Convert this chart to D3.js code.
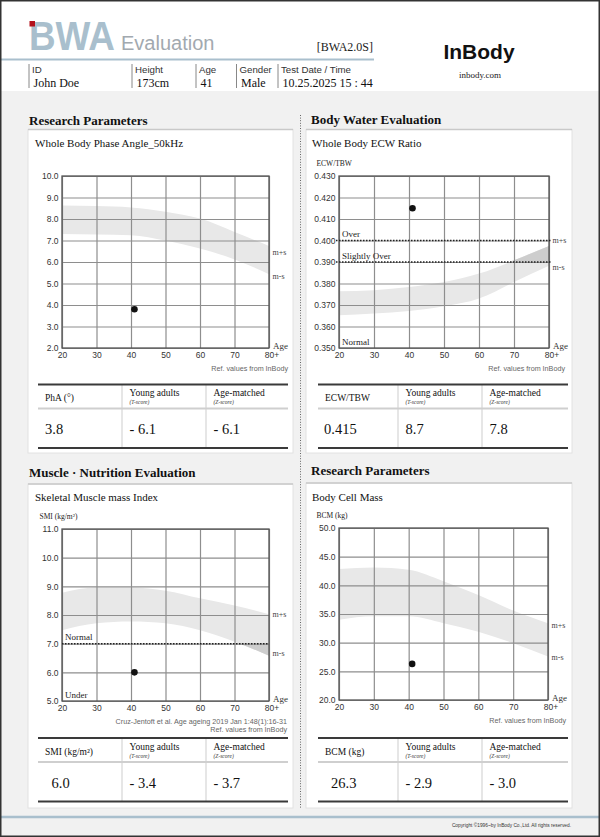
<!DOCTYPE html>
<html>
<head>
<meta charset="utf-8">
<title>BWA Evaluation</title>
<script src="https://d3js.org/d3.v7.min.js"></script>
<style>
body { margin: 0; background: #fff; }
svg { display: block; }
</style>
</head>
<body>
<div id="chart"></div>
<script>

// ages of the reference band points
const ages = [20, 30, 40, 50, 60, 70, 80];
const ageTicks = [20, 30, 40, 50, 60, 70, 80];
const subjectAge = 41;

// phase angle
const phaTicks = [2, 3, 4, 5, 6, 7, 8, 9, 10];
const phaUpper = [8.63, 8.6, 8.54, 8.34, 8.02, 7.4, 6.74];
const phaLower = [7.3, 7.28, 7.25, 7.0, 6.63, 6.12, 5.43];
const phaValue = 3.8;

// ECW ratio
const ecwTicks = [0.35, 0.36, 0.37, 0.38, 0.39, 0.40, 0.41, 0.42, 0.43];
const ecwUpper = [0.3764, 0.3769, 0.3784, 0.3807, 0.3846, 0.3908, 0.3975];
const ecwLower = [0.3652, 0.366, 0.3672, 0.3694, 0.373, 0.3807, 0.3882];
const ecwCutoffs = [0.400, 0.390];
const ecwValue = 0.415;

// SMI
const smiTicks = [5, 6, 7, 8, 9, 10, 11];
const smiUpper = [8.78, 8.96, 8.96, 8.85, 8.58, 8.33, 8.03];
const smiLower = [7.47, 7.71, 7.77, 7.71, 7.47, 7.07, 6.58];
const smiCutoffs = [7.0];
const smiValue = 6.0;

// body cell mass
const bcmTicks = [20, 25, 30, 35, 40, 45, 50];
const bcmUpper = [42.83, 43.1, 42.7, 40.7, 38.3, 35.6, 33.4];
const bcmLower = [34.0, 34.6, 34.6, 33.4, 31.9, 29.9, 27.6];
const bcmValue = 26.3;

// tables
const phaRow = ["3.8", "- 6.1", "- 6.1"];
const ecwRow = ["0.415", "8.7", "7.8"];
const smiRow = ["6.0", "- 3.4", "- 3.7"];
const bcmRow = ["26.3", "- 2.9", "- 3.0"];

// header
const infoLabels = ["ID", "Height", "Age", "Gender", "Test Date / Time"];
const infoValues = ["John Doe", "173cm", "41", "Male", "10.25.2025 15 : 44"];

const SERIF = "Liberation Serif, Times New Roman, serif";
const SANS = "Liberation Sans, Arial, sans-serif";
const W = 600, H = 837;

const svg = d3.select("#chart").append("svg")
  .attr("width", W).attr("height", H);

// page
svg.append("rect").attr("width", W).attr("height", H).attr("fill", "#f1f1f1");
svg.append("rect").attr("width", W).attr("height", 91).attr("fill", "#fff");

// ---- header ----
svg.append("text").attr("x", 29).attr("y", 50)
  .attr("font-family", SANS).attr("font-size", 40).attr("font-weight", "bold")
  .attr("fill", "#a9bfcd").attr("textLength", 86).attr("lengthAdjust", "spacingAndGlyphs")
  .text("BWA");
svg.append("rect").attr("x", 29.5).attr("y", 21).attr("width", 5.5).attr("height", 5.5).attr("fill", "#b3121c");
svg.append("text").attr("x", 121).attr("y", 50)
  .attr("font-family", SANS).attr("font-size", 20).attr("fill", "#a2a9af")
  .text("Evaluation");
svg.append("text").attr("x", 373).attr("y", 51).attr("text-anchor", "end")
  .attr("font-family", SERIF).attr("font-size", 12).attr("fill", "#222")
  .text("[BWA2.0S]");
svg.append("line").attr("x1", 1).attr("x2", 374).attr("y1", 59.5).attr("y2", 59.5)
  .attr("stroke", "#a9bfcd").attr("stroke-width", 2.2);
svg.append("text").attr("x", 479).attr("y", 59).attr("text-anchor", "middle")
  .attr("font-family", SANS).attr("font-size", 21).attr("font-weight", "bold").attr("fill", "#111")
  .text("InBody");
svg.append("text").attr("x", 480).attr("y", 78).attr("text-anchor", "middle")
  .attr("font-family", SERIF).attr("font-size", 9).attr("fill", "#222")
  .text("inbody.com");

const infoX = [29, 132, 196, 236.5, 278];
infoLabels.forEach((lab, i) => {
  svg.append("line").attr("x1", infoX[i]).attr("x2", infoX[i]).attr("y1", 64).attr("y2", 88)
    .attr("stroke", "#888").attr("stroke-width", 1);
  svg.append("text").attr("x", infoX[i] + 3).attr("y", 72.5)
    .attr("font-family", SANS).attr("font-size", 9.7).attr("fill", "#333").text(lab);
  svg.append("text").attr("x", infoX[i] + 4.5).attr("y", 87)
    .attr("font-family", SERIF).attr("font-size", 12).attr("fill", "#111").text(infoValues[i]);
});

// ---- section cards ----
function card(x, y, w, h, titleY, title) {
  svg.append("rect").attr("x", x).attr("y", y).attr("width", w).attr("height", h)
    .attr("fill", "#fff").attr("stroke", "#e2e2e2").attr("stroke-width", 1);
  svg.append("line").attr("x1", x).attr("x2", x + w).attr("y1", y).attr("y2", y)
    .attr("stroke", "#c9c9c9").attr("stroke-width", 1.5);
  svg.append("text").attr("x", x + 1 + (x > 300 ? 4 : 0)).attr("y", titleY)
    .attr("font-family", SERIF).attr("font-size", 13).attr("font-weight", "bold").attr("fill", "#111")
    .text(title);
}
card(28, 129.5, 265, 323.5, 125, "Research Parameters");
card(306, 129.5, 266, 323.5, 124, "Body Water Evaluation");
card(28, 484, 265, 324, 477, "Muscle \u00b7 Nutrition Evaluation");
card(306, 483, 266, 325, 475, "Research Parameters");

// dotted separator
svg.append("line").attr("x1", 300.5).attr("x2", 300.5).attr("y1", 115).attr("y2", 808)
  .attr("stroke", "#666").attr("stroke-width", 1).attr("stroke-dasharray", "1,1.6");

// ---- charts ----
function drawChart(c) {
  const g = svg.append("g");
  const x = d3.scaleLinear().domain([20, 80]).range([c.x0, c.x1]);
  const y = d3.scaleLinear().domain(d3.extent(c.ticks)).range([c.y1, c.y0]);

  g.append("text").attr("x", c.subX).attr("y", c.subY)
    .attr("font-family", SERIF).attr("font-size", 11).attr("fill", "#111").text(c.subtitle);
  if (c.unit) {
    g.append("text").attr("x", c.subX + 4.5).attr("y", c.y0 - 10)
      .attr("font-family", SERIF).attr("font-size", 7.5).attr("fill", "#222").text(c.unit);
  }

  const band = ages.map((a, i) => ({ a: a, hi: c.upper[i], lo: c.lower[i] }));
  const area = d3.area()
    .x(d => x(d.a)).y0(d => y(d.lo)).y1(d => y(d.hi))
    .curve(d3.curveMonotoneX);
  g.append("path").datum(band).attr("d", area).attr("fill", "#e8e8e8");
  if (c.zone) {
    const id = "clip-" + c.id;
    g.append("clipPath").attr("id", id).append("rect")
      .attr("x", c.x0).attr("width", c.x1 - c.x0)
      .attr("y", y(c.zone[1])).attr("height", y(c.zone[0]) - y(c.zone[1]));
    g.append("path").datum(band).attr("d", area)
      .attr("fill", "#cdcdcd").attr("clip-path", "url(#" + id + ")");
  }

  const ya = g.append("g").attr("transform", "translate(" + c.x0 + ",0)")
    .call(d3.axisLeft(y).tickValues(c.ticks).tickFormat(d3.format(c.fmt))
      .tickSize(-(c.x1 - c.x0)).tickPadding(3.5));
  const xa = g.append("g").attr("transform", "translate(0," + c.y1 + ")")
    .call(d3.axisBottom(x).tickValues(ageTicks)
      .tickFormat(d => d === 80 ? "80+" : d)
      .tickSize(-(c.y1 - c.y0)).tickPadding(3.5));
  [ya, xa].forEach(a => {
    a.select(".domain").remove();
    a.selectAll(".tick line").attr("stroke", "#8e8e8e").attr("stroke-width", 1.2);
    a.selectAll(".tick text").attr("font-family", SANS).attr("font-size", 8.5).attr("fill", "#333");
  });
  xa.selectAll(".tick text").filter(d => d === 80).attr("dx", "0.3em");

  g.append("rect").attr("x", c.x0).attr("y", c.y0)
    .attr("width", c.x1 - c.x0).attr("height", c.y1 - c.y0)
    .attr("fill", "none").attr("stroke", "#555").attr("stroke-width", 1.3);

  (c.cutoffs || []).forEach(v => {
    g.append("line").attr("x1", c.x0 - c.dashExt).attr("x2", c.x1 + c.dashExt)
      .attr("y1", y(v)).attr("y2", y(v))
      .attr("stroke", "#222").attr("stroke-width", 1.5).attr("stroke-dasharray", "1.5,1.5");
  });
  (c.zoneLabels || []).forEach(z => {
    g.append("text").attr("x", c.x0 + 3).attr("y", y(z.at) - 3.5)
      .attr("font-family", SERIF).attr("font-size", 9).attr("fill", "#222").text(z.text);
  });

  ["m+s", "m-s"].forEach((t, i) => {
    g.append("text").attr("x", c.x1 + 3.5).attr("y", y(c.mLabels[i]) + 2.8)
      .attr("font-family", SERIF).attr("font-size", 8).attr("fill", "#444").text(t);
  });
  g.append("text").attr("x", c.x1 + 4).attr("y", c.y1 + 1)
    .attr("font-family", SERIF).attr("font-size", 9).attr("fill", "#333").text("Age");

  c.notes.forEach((n, i) => {
    g.append("text").attr("x", c.noteX).attr("y", c.y1 + 22.5 + i * 8).attr("text-anchor", "end")
      .attr("font-family", SANS).attr("font-size", 7.2).attr("fill", "#666").text(n);
  });

  g.append("circle").attr("cx", x(subjectAge)).attr("cy", y(c.value)).attr("r", 3.3).attr("fill", "#111");
}

drawChart({
  id: "pha", x0: 62, x1: 269, y0: 176, y1: 348, subX: 35, subY: 147,
  subtitle: "Whole Body Phase Angle_50kHz", ticks: phaTicks, fmt: ".1f",
  upper: phaUpper, lower: phaLower, value: phaValue, mLabels: [6.47, 5.35],
  noteX: 288, notes: ["Ref. values from InBody"]
});
drawChart({
  id: "ecw", x0: 339, x1: 549, y0: 176, y1: 348, subX: 312, subY: 146.5,
  subtitle: "Whole Body ECW Ratio", unit: "ECW/TBW", ticks: ecwTicks, fmt: ".3f",
  upper: ecwUpper, lower: ecwLower, value: ecwValue, mLabels: [0.400, 0.3877],
  zone: [0.390, 0.430], cutoffs: ecwCutoffs, dashExt: 3,
  zoneLabels: [{ text: "Over", at: 0.400 }, { text: "Slightly Over", at: 0.390 }, { text: "Normal", at: 0.350 }],
  noteX: 565, notes: ["Ref. values from InBody"]
});
drawChart({
  id: "smi", x0: 62, x1: 269, y0: 529, y1: 701, subX: 35, subY: 501,
  subtitle: "Skeletal Muscle mass Index", unit: "SMI (kg/m\u00b2)", ticks: smiTicks, fmt: ".1f",
  upper: smiUpper, lower: smiLower, value: smiValue, mLabels: [8.02, 6.66],
  zone: [5, 7.0], cutoffs: smiCutoffs, dashExt: 0,
  zoneLabels: [{ text: "Normal", at: 7.0 }, { text: "Under", at: 5 }],
  noteX: 287, notes: ["Cruz-Jentoft et al. Age ageing 2019 Jan 1:48(1):16-31", "Ref. values from InBody"]
});
drawChart({
  id: "bcm", x0: 339, x1: 548, y0: 528, y1: 700, subX: 312, subY: 500.5,
  subtitle: "Body Cell Mass", unit: "BCM (kg)", ticks: bcmTicks, fmt: ".1f",
  upper: bcmUpper, lower: bcmLower, value: bcmValue, mLabels: [32.97, 27.55],
  noteX: 566, notes: ["Ref. values from InBody"]
});

// ---- tables ----
function drawTable(t) {
  const g = svg.append("g");
  const h = 63.5;
  t.cols.slice(1).forEach(cx => {
    g.append("line").attr("x1", cx).attr("x2", cx).attr("y1", t.y).attr("y2", t.y + h)
      .attr("stroke", "#dedede").attr("stroke-width", 1.5);
  });
  g.append("line").attr("x1", t.x0).attr("x2", t.x1).attr("y1", t.y + 24).attr("y2", t.y + 24)
    .attr("stroke", "#cfcfcf").attr("stroke-width", 2);
  [0, h].forEach(dy => {
    g.append("line").attr("x1", t.x0).attr("x2", t.x1).attr("y1", t.y + dy).attr("y2", t.y + dy)
      .attr("stroke", "#3a3a3a").attr("stroke-width", 2);
  });
  g.append("text").attr("x", t.cols[0] + 7).attr("y", t.y + 16.5)
    .attr("font-family", SERIF).attr("font-size", 9.5).attr("fill", "#111").text(t.head);
  [["Young adults", "(T-score)"], ["Age-matched", "(Z-score)"]].forEach((hd, i) => {
    const cx = t.cols[i + 1] + 7.5;
    g.append("text").attr("x", cx).attr("y", t.y + 11.5)
      .attr("font-family", SERIF).attr("font-size", 9.5).attr("fill", "#111").text(hd[0]);
    g.append("text").attr("x", cx).attr("y", t.y + 19.5)
      .attr("font-family", SERIF).attr("font-size", 5.5).attr("font-style", "italic").attr("fill", "#333").text(hd[1]);
  });
  t.row.forEach((v, i) => {
    g.append("text").attr("x", t.cols[i] + (i === 0 ? t.firstPad : 7.5)).attr("y", t.y + 49.5)
      .attr("font-family", SERIF).attr("font-size", 14.5).attr("fill", "#111").text(v);
  });
}
drawTable({ x0: 38, x1: 288, cols: [38, 122, 206], y: 384.5, head: "PhA (\u00b0)", row: phaRow, firstPad: 7 });
drawTable({ x0: 318, x1: 568, cols: [318, 398, 482], y: 384.5, head: "ECW/TBW", row: ecwRow, firstPad: 6 });
drawTable({ x0: 38, x1: 288, cols: [38, 122, 206], y: 738, head: "SMI (kg/m\u00b2)", row: smiRow, firstPad: 13.5 });
drawTable({ x0: 318, x1: 568, cols: [318, 398, 482], y: 738, head: "BCM (kg)", row: bcmRow, firstPad: 13 });

// ---- footer ----
svg.append("line").attr("x1", 0).attr("x2", W).attr("y1", 817).attr("y2", 817)
  .attr("stroke", "#a9bfcd").attr("stroke-width", 2.7);
svg.append("text").attr("x", 571).attr("y", 827).attr("text-anchor", "end")
  .attr("font-family", SANS).attr("font-size", 4.8).attr("fill", "#333")
  .text("Copyright \u00a91996~by InBody Co.,Ltd. All rights reserved.");

// page frame
svg.append("rect").attr("x", 0.75).attr("y", 0.75).attr("width", W - 1.5).attr("height", H - 1.5)
  .attr("fill", "none").attr("stroke", "#333").attr("stroke-width", 1.5);

</script>
</body>
</html>
